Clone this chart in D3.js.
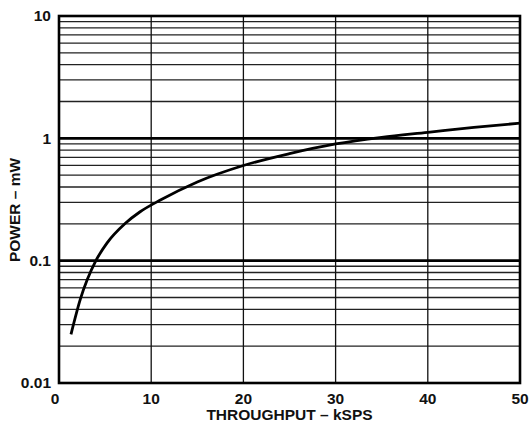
<!DOCTYPE html>
<html><head><meta charset="utf-8">
<script src="https://cdn.jsdelivr.net/npm/d3@7"></script>
<style>body{margin:0;background:#fff}svg{display:block}text{font-family:"Liberation Sans",Arial,sans-serif;font-weight:bold;fill:#111}</style>
</head><body><svg id="c" width="529" height="428"></svg>
<script>
const throughput = [1.3, 2.3, 4.0, 5.2, 7.2, 8.8, 11, 15, 20, 25, 30, 35, 40, 45, 50];
const power      = [0.025, 0.048, 0.1, 0.139, 0.202, 0.251, 0.313, 0.44, 0.6, 0.75, 0.9, 1.02, 1.12, 1.23, 1.33];
const xTicks = [0, 10, 20, 30, 40, 50];
const yTicks = [0.01, 0.1, 1, 10];
const yTickLabels = ["0.01", "0.1", "1", "10"];
const xTitle = "THROUGHPUT – kSPS";
const yTitle = "POWER – mW";

const svg = d3.select("#c");
const L = 59, R = 520, T = 16, B = 383;
const x = d3.scaleLinear().domain([0, 50]).range([L, R]);
const y = d3.scaleLog().domain([0.01, 10]).range([B, T]);

// minor horizontal grid
const minor = [];
[0.01, 0.1, 1].forEach(d => { for (let k = 2; k <= 9; k++) minor.push(d * k); });
svg.append("g").selectAll("line").data(minor).join("line")
  .attr("x1", L).attr("x2", R).attr("y1", d => y(d)).attr("y2", d => y(d))
  .attr("stroke", "#222").attr("stroke-width", 1.3);
// vertical grid
svg.append("g").selectAll("line").data(xTicks.slice(1, -1)).join("line")
  .attr("x1", d => x(d)).attr("x2", d => x(d)).attr("y1", T).attr("y2", B)
  .attr("stroke", "#111").attr("stroke-width", 1.3);
// decade lines
svg.append("g").selectAll("line").data([0.1, 1]).join("line")
  .attr("x1", L).attr("x2", R).attr("y1", d => y(d)).attr("y2", d => y(d))
  .attr("stroke", "#000").attr("stroke-width", 2.6);
// frame
svg.append("rect").attr("x", L).attr("y", T).attr("width", R - L).attr("height", B - T)
  .attr("fill", "none").attr("stroke", "#000").attr("stroke-width", 2.6);

// curve
const line = d3.line().x((d, i) => x(throughput[i])).y(d => y(d)).curve(d3.curveMonotoneX);
svg.append("path").attr("d", line(power)).attr("fill", "none")
  .attr("stroke", "#000").attr("stroke-width", 2.8);

const fs = 15.5;
// y tick labels
svg.append("g").selectAll("text").data(yTicks).join("text")
  .attr("x", L - 8).attr("y", d => y(d)).attr("dy", "0.35em")
  .attr("text-anchor", "end").attr("font-size", fs)
  .text((d, i) => yTickLabels[i]);
// x tick labels
svg.append("g").selectAll("text").data(xTicks).join("text")
  .attr("x", d => x(d) - (d === 0 ? 4 : 0)).attr("y", 399).attr("dy", "0.35em")
  .attr("text-anchor", "middle").attr("font-size", fs)
  .text(d => d);
// titles
svg.append("text").attr("x", (L + R) / 2).attr("y", 415).attr("dy", "0.35em")
  .attr("text-anchor", "middle").attr("font-size", fs).text(xTitle);
svg.append("text").attr("transform", "translate(15,210) rotate(-90)").attr("dy", "0.35em")
  .attr("text-anchor", "middle").attr("font-size", fs).text(yTitle);
</script></body></html>
